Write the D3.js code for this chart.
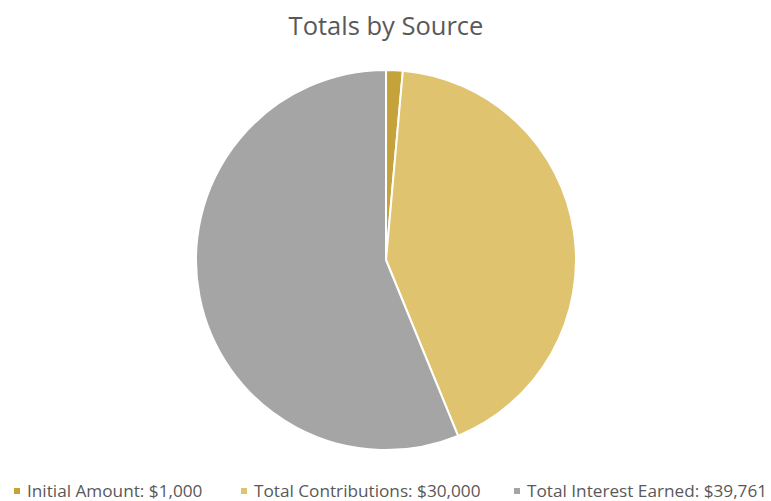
<!DOCTYPE html>
<html>
<head>
<meta charset="utf-8">
<script src="https://cdn.jsdelivr.net/npm/d3@7"></script>
<style>
  html, body { margin: 0; padding: 0; background: #fff; }
  svg { display: block; }
</style>
</head>
<body>
<svg id="chart" width="771" height="501"></svg>
<script>
// Totals by source
const categories = ["Initial Amount", "Total Contributions", "Total Interest Earned"];
const values = [1000, 30000, 39761];
const colors = ["#C5A23A", "#E0C36E", "#A5A5A5"];
const legendX = [14, 241, 514];

const svg = d3.select("#chart");
const cx = 386, cy = 260, R = 190;
const fontFamily = "'Open Sans', 'Liberation Sans', sans-serif";

svg.append("text")
  .attr("x", cx)
  .attr("y", 35)
  .attr("text-anchor", "middle")
  .attr("font-family", fontFamily)
  .attr("font-size", 25.5)
  .attr("fill", "#595959")
  .text("Totals by Source");

const data = categories.map((c, i) => ({ name: c, value: values[i], color: colors[i] }));

const pie = d3.pie().value(d => d.value).sort(null);
const arc = d3.arc().innerRadius(0).outerRadius(R);

svg.append("g")
  .attr("transform", `translate(${cx},${cy})`)
  .selectAll("path")
  .data(pie(data))
  .join("path")
  .attr("d", arc)
  .attr("fill", d => d.data.color)
  .attr("stroke", "#fff")
  .attr("stroke-width", 2)
  .attr("stroke-linejoin", "round");

const fmt = d3.format("$,");
const legend = svg.append("g")
  .selectAll("g")
  .data(data)
  .join("g")
  .attr("transform", (d, i) => `translate(${legendX[i]},488)`);

legend.append("rect")
  .attr("width", 6)
  .attr("height", 6)
  .attr("fill", d => d.color);

legend.append("text")
  .attr("x", 13)
  .attr("y", 9)
  .attr("font-family", fontFamily)
  .attr("font-size", 17.2)
  .attr("fill", "#595959")
  .text(d => `${d.name}: ${fmt(d.value)}`);
</script>
</body>
</html>
